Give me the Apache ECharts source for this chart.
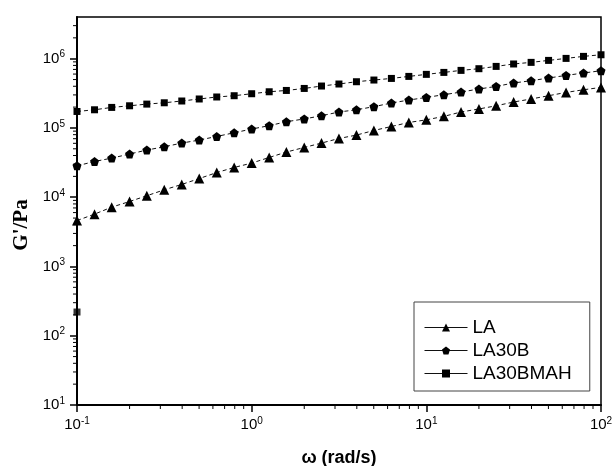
<!DOCTYPE html>
<html>
<head>
<meta charset="utf-8">
<script src="https://cdn.jsdelivr.net/npm/echarts@6/dist/echarts.min.js"></script>
<style>
  html, body { margin: 0; padding: 0; background: #fff; }
  #main { width: 613px; height: 466px; }
</style>
</head>
<body>
<div id="main"></div>
<script>
// 频率 ω (rad/s)
var omega = [0.1, 0.126, 0.158, 0.2, 0.251, 0.316, 0.398, 0.501, 0.631, 0.794,
  1, 1.26, 1.58, 2, 2.51, 3.16, 3.98, 5.01, 6.31, 7.94,
  10, 12.6, 15.8, 20, 25.1, 31.6, 39.8, 50.1, 63.1, 79.4, 100];
// 储能模量 G' (Pa)
var gLA = [4600, 5700, 7190, 8670, 10500, 12800, 15300, 18600, 22700, 26900,
  31100, 37500, 44900, 52300, 60500, 70500, 78900, 92000, 105000, 120000,
  131000, 147000, 170000, 188000, 209000, 237000, 262000, 292000, 326000, 356000, 385000];
var gLA30B = [28400, 32800, 36700, 42000, 48000, 53500, 60500, 66900, 75400, 85300,
  96400, 108000, 123000, 135000, 150000, 170000, 183000, 203000, 229000, 253000,
  276000, 302000, 330000, 365000, 398000, 446000, 481000, 526000, 574000, 621000, 671000];
var gLA30BMAH = [173000, 183000, 198000, 209000, 221000, 231000, 245000, 262000, 280000, 292000,
  312000, 333000, 348000, 372000, 403000, 431000, 465000, 492000, 519000, 555000,
  594000, 634000, 678000, 717000, 774000, 839000, 885000, 945000, 1010000, 1080000, 1140000];
// LA30BMAH 在 0.1 rad/s 处的异常点
var strayX = [0.1];
var strayY = [220];
// 对数轴次刻度位置
var minorX = [0.2, 0.3, 0.4, 0.5, 0.6, 0.7, 0.8, 0.9,
  2, 3, 4, 5, 6, 7, 8, 9,
  20, 30, 40, 50, 60, 70, 80, 90];
var minorY = [20, 30, 40, 50, 60, 70, 80, 90,
  200, 300, 400, 500, 600, 700, 800, 900,
  2000, 3000, 4000, 5000, 6000, 7000, 8000, 9000,
  20000, 30000, 40000, 50000, 60000, 70000, 80000, 90000,
  200000, 300000, 400000, 500000, 600000, 700000, 800000, 900000,
  2000000, 3000000];

var seriesNames = ['LA', 'LA30B', 'LA30BMAH'];
var pentagon = 'path://M0,-10 L9.51,-3.09 L5.88,8.09 L-5.88,8.09 L-9.51,-3.09 Z';

function pairs(xs, ys) {
  var arr = [];
  for (var i = 0; i < xs.length; i++) {
    arr.push([xs[i], ys[i]]);
  }
  return arr;
}

function powLabel(value) {
  var e = Math.round(Math.log(value) / Math.LN10);
  return '{b|10}{s|' + e + '}';
}

var labelRich = {
  b: { fontSize: 15, fontFamily: 'Liberation Sans', color: '#000' },
  s: { fontSize: 10, fontFamily: 'Liberation Sans', color: '#000', padding: [0, 0, 8, 0] }
};

var lineStyle = { color: '#111', width: 1, type: [4, 3] };

// 次刻度:x 轴向下,y 轴向左
function renderMinor(params, api) {
  var axis = api.value(0);
  var v = api.value(1);
  var p1, p2;
  if (axis === 0) {
    p1 = api.coord([v, 10]);
    p2 = [p1[0], p1[1] + 4];
  } else {
    p1 = api.coord([0.1, v]);
    p2 = [p1[0] - 4, p1[1]];
  }
  return {
    type: 'line',
    shape: { x1: p1[0], y1: p1[1], x2: p2[0], y2: p2[1] },
    style: { stroke: '#000', lineWidth: 1 }
  };
}

var minorData = [];
minorX.forEach(function (v) { minorData.push([0, v]); });
minorY.forEach(function (v) { minorData.push([1, v]); });

var chart = echarts.init(document.getElementById('main'));
var option = {
  animation: false,
  backgroundColor: '#fff',
  grid: {
    left: 77,
    right: 12,
    top: 17,
    bottom: 61,
    containLabel: false,
    outerBoundsMode: 'none',
    show: true,
    borderColor: '#000',
    borderWidth: 1.5
  },
  legend: {
    orient: 'vertical',
    left: 414,
    top: 302,
    width: 175,
    data: seriesNames,
    itemWidth: 43,
    itemHeight: 10,
    itemGap: 4,
    padding: [16, 18, 8, 10],
    borderColor: '#444',
    borderWidth: 1,
    lineStyle: { type: 'solid', width: 1 },
    textStyle: { fontSize: 19, fontFamily: 'Liberation Sans', color: '#000' }
  },
  xAxis: {
    type: 'log',
    logBase: 10,
    min: 0.1,
    max: 100,
    name: 'ω (rad/s)',
    nameLocation: 'middle',
    nameGap: 44,
    nameTextStyle: { fontSize: 18, fontWeight: 'bold', fontFamily: 'Liberation Sans', color: '#000' },
    axisLine: { lineStyle: { color: '#000', width: 2 } },
    axisTick: { inside: false, length: 7, lineStyle: { color: '#000', width: 1.5 } },
    splitLine: { show: false },
    axisLabel: { formatter: powLabel, rich: labelRich, margin: 11 }
  },
  yAxis: {
    type: 'log',
    logBase: 10,
    min: 10,
    max: 4000000,
    name: "G'/Pa",
    nameLocation: 'middle',
    nameGap: 44,
    nameTextStyle: { fontSize: 21, fontWeight: 'bold', fontFamily: 'Liberation Serif', color: '#000', padding: [0, 28, 0, 0] },
    axisLine: { lineStyle: { color: '#000', width: 2 } },
    axisTick: { inside: false, length: 7, lineStyle: { color: '#000', width: 1.5 } },
    splitLine: { show: false },
    axisLabel: { formatter: powLabel, rich: labelRich, margin: 12, showMaxLabel: false }
  },
  series: [
    {
      name: 'LA',
      type: 'line',
      data: pairs(omega, gLA),
      symbol: 'triangle',
      symbolSize: 10,
      itemStyle: { color: '#000' },
      lineStyle: lineStyle
    },
    {
      name: 'LA30B',
      type: 'line',
      data: pairs(omega, gLA30B),
      symbol: pentagon,
      symbolSize: 9,
      itemStyle: { color: '#000' },
      lineStyle: lineStyle
    },
    {
      name: 'LA30BMAH',
      type: 'line',
      data: pairs(omega, gLA30BMAH),
      symbol: 'rect',
      symbolSize: 7,
      itemStyle: { color: '#000' },
      lineStyle: lineStyle
    },
    {
      name: 'stray',
      type: 'scatter',
      data: pairs(strayX, strayY),
      symbol: 'rect',
      symbolSize: 7,
      itemStyle: { color: '#000' }
    },
    {
      name: 'minorTicks',
      type: 'custom',
      silent: true,
      clip: false,
      renderItem: renderMinor,
      encode: { x: -1, y: -1 },
      data: minorData
    }
  ]
};
chart.setOption(option);
</script>
</body>
</html>
